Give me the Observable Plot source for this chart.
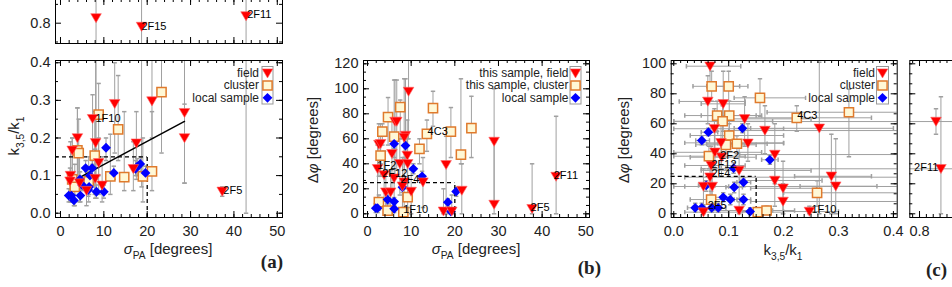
<!DOCTYPE html>
<html><head><meta charset="utf-8">
<script src="https://cdn.jsdelivr.net/npm/d3@7"></script>
<script src="https://cdn.jsdelivr.net/npm/@observablehq/plot@0.6"></script>
<style>
html,body{margin:0;padding:0;background:#fff;overflow:hidden}
#fig{position:relative;width:952px;height:287px;overflow:hidden;background:#fff}
#fig svg{position:absolute;left:0;top:-10px;max-width:none !important}
</style></head><body><div id="fig"></div>
<script>
// ---------------- DATA ----------------
// Panel (a): sigma_PA [deg] vs k35/k1 ; rows [x, y, yLow, yHigh]
const aField = [
 [12.5,0.291,0.16,0.40],[21.1,0.298,0.20,0.42],[28.6,0.267,0.08,0.42],[28.6,0.200,0.08,0.29],
 [7.4,0.251,0.13,0.315],[3.9,0.200,0.10,0.28],[8.1,0.187,0.09,0.42],[17.5,0.186,0.09,0.27],
 [2.7,0.167,0.06,0.20],[8.8,0.134,0.05,0.20],[2.3,0.100,0.05,0.19],[16.8,0.118,0.06,0.19],
 [2.2,0.085,0.03,0.12],[4.4,0.080,0.03,0.15],[9.6,0.074,0.03,0.15],[8.0,0.092,0.04,0.17],
 [6.0,0.060,0.02,0.11],[37.3,0.058,0.045,0.07],
 [8.2,0.814,0.05,0.9],[18.7,0.791,0.07,0.9],[42.8,0.819,0.0,0.9]
];
const aCluster = [
 [23.3,0.322,0.16,0.41],[8.8,0.262,0.10,0.345],[13.3,0.223,0.14,0.366],[3.9,0.167,0.10,0.28],
 [4.2,0.160,0.09,0.25],[7.9,0.153,0.05,0.27],[11.5,0.098,0.05,0.21],[14.7,0.096,0.06,0.27],
 [19.0,0.098,0.03,0.20],[21.1,0.111,0.06,0.27],[2.7,0.090,0.03,0.20],[3.3,0.070,0.02,0.13],
 [6.5,0.085,0.03,0.15]
];
const aLocal = [
 [10.5,0.174,0.14,0.20],[18.4,0.131,0.11,0.15],[17.7,0.124,0.10,0.145],[17.3,0.118,0.10,0.14],
 [19.6,0.107,0.09,0.125],[12.3,0.107,0.09,0.125],[5.8,0.120,0.10,0.14],[7.3,0.120,0.10,0.14],
 [4.5,0.090,0.07,0.11],[5.0,0.075,0.06,0.09],[2.5,0.047,0.03,0.065],[1.9,0.047,0.03,0.065],
 [3.1,0.034,0.02,0.05],[4.6,0.047,0.03,0.065],[6.6,0.070,0.05,0.09],[6.4,0.062,0.045,0.08],
 [8.3,0.057,0.04,0.075],[10.0,0.057,0.04,0.075],[6.8,0.100,0.08,0.12]
];
const aFitX = [2.3, 28.6], aFitY = [0.082, 0.244];
const aCut = {x: 20, y: 0.15};
const aNames = [[7.6,0.252,"1F10"],[37.1,0.060,"2F5"]];
const aTopNames = [[18.2,0.791,"2F15"],[42.6,0.823,"2F11"]];
const aXTicks = [0,10,20,30,40,50], aYTicks = [0,0.1,0.2,0.3,0.4], aTopYTicks = [0.8];

// Panel (b): sigma_PA [deg] vs delta phi [deg] ; rows [x, y, yLow, yHigh]
const bField = [
 [9.4,97.8,60,125],[6.3,73.8,30,107],[6.7,73.8,35,107],[8.7,62.6,40,108],[8.4,61,35,108],
 [2.6,55.4,30,72],[3.0,56,30,72],[5.6,48,20,75],[9.1,46.6,20,75],[7.4,40,15,60],[9.2,40,15,60],
 [2.3,36,10,55],[3.8,31,10,50],[6.1,28.5,5,50],[8.4,25.3,5,45],[8.0,22,5,45],[12.7,25.3,5,45],
 [4.2,17.3,0,35],[5.3,17.3,0,35],[10.0,17.8,0,35],[18.0,39.2,0,62],[21.6,18.6,0,40],
 [17.4,2,0,20],[19.3,2,0,15],[29.0,57.8,8,100],[29.0,7.4,0,57],[37.7,4,0,40],[43.2,29.8,0,78]
];
const bCluster = [
 [15.0,84.5,70,98],[7.5,85.3,60,91],[4.7,77.3,55,93],[19.1,65.8,45,85],[23.8,68.5,45,94],
 [13.6,64,50,75],[3.4,65.8,55,72],[6.1,61.8,45,107],[11.9,52,40,60],[3.0,46.6,40,55],
 [21.4,47.4,40,108],[9.2,13.3,5,25],[2.6,9.3,3,15],[4.6,2.6,0,8],[8.2,1.3,0,5]
];
const bLocal = [
 [6.1,56,52,60],[8.7,54.6,50,58],[10.5,36,32,40],[12.5,30,26,34],[8.0,21.3,17,25],
 [4.6,11.4,8,15],[6.1,9.8,6,13],[1.9,4.5,1,8],[2.3,4.5,1,8],[6.1,4,1,7],
 [20.3,17.8,14,21],[18.4,9.3,6,12],[19.1,1.8,0,4]
];
const bCut = {x: 20, y: 25};
const bNames = [[1.8,38.6,"1F2"],[2.9,32.5,"2F12"],[7.1,27.2,"2F4"],[13.3,65.8,"4C3"],
 [7.7,3.4,"1F10"],[36.9,5.3,"2F5"],[42.2,30.6,"2F11"]];
const bXTicks = [0,10,20,30,40,50], bYTicks = [0,20,40,60,80,100,120];

// Panel (c): k35/k1 vs delta phi ; rows [x, y, xLow, xHigh, yLow, yHigh]
const cField = [
 [0.066,98.4,0.023,0.122,85,100],[0.062,74.9,0.01,0.13,60,92],[0.090,73.3,0.05,0.13,55,95],
 [0.129,63.3,0.08,0.25,45,78],[0.074,56.7,0.0,0.20,40,70],[0.166,55.5,0.10,0.45,40,72],
 [0.086,47.3,0.02,0.20,30,65],[0.135,47,0.08,0.20,35,60],[0.075,41,0.0,0.16,30,55],
 [0.087,37.7,0.03,0.15,25,50],[0.184,39.5,0.12,0.45,20,60],[0.068,32.2,0.02,0.13,20,45],
 [0.119,28.9,0.05,0.25,10,45],[0.066,24.4,0.02,0.45,10,40],[0.184,22.2,0.12,0.27,5,40],
 [0.054,18.2,0.0,0.10,5,30],[0.070,18.2,0.02,0.45,5,30],[0.199,17,0.14,0.26,0,35],
 [0.199,8.2,0.14,0.45,0,20],[0.119,2.2,0.07,0.18,0,8],[0.054,1.1,0.02,0.10,0,6],
 [0.265,57,0.17,0.40,0,101],[0.287,25,0.22,0.36,0,53],[0.295,18.4,0.23,0.37,0,50],
 [0.247,1.5,0.20,0.30,0,5],
 [0.830,61.5,0.0,0.95,53,70],[0.839,30,0.05,0.95,0,78]
];
const cCluster = [
 [0.069,85,0.035,0.12,75,95],[0.100,85,0.06,0.135,75,95],[0.157,77.3,0.11,0.24,65,90],
 [0.079,65.5,0.02,0.15,55,75],[0.101,65.5,0.05,0.16,55,75],[0.089,61.7,0.0,0.18,50,72],
 [0.224,64,0.13,0.36,55,72],[0.319,67.7,0.17,0.41,38,83],[0.101,52.2,0.03,0.20,45,60],
 [0.095,46,0.04,0.15,40,52],[0.115,46.7,0.06,0.17,40,52],[0.064,38.4,0.0,0.13,30,45],
 [0.068,9.5,0.03,0.11,3,15],[0.153,1.1,0.10,0.20,0,4],[0.169,2.2,0.12,0.22,0,5],
 [0.261,14,0.20,0.45,5,22]
];
const cLocal = [
 [0.063,54.4,0.05,0.08,52,57],[0.125,57,0.11,0.14,54,60],[0.051,48.9,0.04,0.065,46,52],
 [0.175,36,0.16,0.19,33,39],[0.109,30.4,0.095,0.125,27,34],[0.127,21,0.115,0.14,18,24],
 [0.110,17.7,0.095,0.125,14,21],[0.059,18.9,0.045,0.075,15,22],[0.090,11,0.075,0.105,8,14],
 [0.103,9.5,0.09,0.12,6,13],[0.127,9.5,0.115,0.14,6,13],[0.039,4,0.025,0.055,1,7],
 [0.051,4,0.04,0.065,1,7],[0.069,4,0.055,0.085,1,7],[0.081,4,0.07,0.095,1,7],
 [0.139,1.5,0.125,0.155,0,4]
];
const cCut = {x: 0.15, y: 25};
const cNames = [[0.081,38.9,"2F2"],[0.065,32.9,"2F12"],[0.065,26.9,"2F4"],[0.058,5.5,"2F5"],
 [0.221,65.5,"4C3"],[0.247,2.9,"1F10"]];
const cBreakNames = [[0.838,30.9,"2F11"]];
const cXTicks = [0,0.1,0.2,0.3,0.4], cYTicks = [0,20,40,60,80,100], cBreakXTicks = [0.8];

const legendA = ["field", "cluster", "local sample"];
const legendB = ["this sample, field", "this sample, cluster", "local sample"];

// ---------------- STYLE / HELPERS ----------------
const W = 1010, H = 310, OY = 10;
const FONT = "'Liberation Sans', Arial, Helvetica, sans-serif";
const GRAY = "#a0a0a0", RED = "#ff0000", ORANGE = "#e07a2c", CREAM = "#fff8d6", BLUE = "#0000ff";
const triDown = {draw(c){ c.moveTo(-5.3,-4.3); c.lineTo(5.3,-4.3); c.lineTo(0,4.8); c.closePath(); }};
const square = {draw(c){ c.moveTo(-4.6,-4.6); c.lineTo(4.6,-4.6); c.lineTo(4.6,4.6); c.lineTo(-4.6,4.6); c.closePath(); }};
const diamond = {draw(c){ c.moveTo(0,-4.9); c.lineTo(4.9,0); c.lineTo(0,4.9); c.lineTo(-4.9,0); c.closePath(); }};
const hcap = {draw(c){ c.moveTo(-2.2,0); c.lineTo(2.2,0); }};
const vcap = {draw(c){ c.moveTo(0,-2.2); c.lineTo(0,2.2); }};

const fmt1 = d3.format(".1f");
const range = (a, b, s) => d3.range(Math.round((b - a) / s) + 1).map(i => +(a + i * s).toFixed(6));

function makePanel(f, xd, yd, marks) {
  return Plot.plot({
    width: W, height: H,
    marginLeft: f.l, marginRight: W - f.r, marginTop: f.t + OY, marginBottom: H - f.b - OY,
    x: {domain: xd, axis: null}, y: {domain: yd, axis: null},
    style: {background: "transparent", overflow: "visible", fontFamily: FONT, maxWidth: "none"},
    marks
  });
}

function frameMarks(f, xd, yd, o) {
  const fh = f.b - f.t, fw = f.r - f.l;
  const inX = v => v >= xd[0] && v <= xd[1], inY = v => v >= yd[0] && v <= yd[1];
  const m = [];
  for (const [vals, L] of [[o.xMaj.filter(inX), 6], [o.xMin.filter(inX), 3]]) {
    m.push(Plot.tickX(vals, {x: d => d, insetTop: fh - L, stroke: "#000"}));
    m.push(Plot.tickX(vals, {x: d => d, insetBottom: fh - L, stroke: "#000"}));
  }
  for (const [vals, L] of [[o.yMaj.filter(inY), 6], [o.yMin.filter(inY), 3]]) {
    m.push(Plot.tickY(vals, {y: d => d, insetRight: fw - L, stroke: "#000"}));
    m.push(Plot.tickY(vals, {y: d => d, insetLeft: fw - L, stroke: "#000"}));
  }
  if (o.xLab) m.push(Plot.text(o.xLab, {x: d => d, text: o.xFmt, frameAnchor: "bottom", lineAnchor: "top", dy: 8, fontSize: 14.5, fill: "#222"}));
  if (o.yLab) m.push(Plot.text(o.yLab, {y: d => d, text: o.yFmt, frameAnchor: "left", textAnchor: "end", dx: -5, fontSize: 14.5, fill: "#222"}));
  m.push(Plot.frame({stroke: "#000", strokeWidth: 1}));
  return m;
}

function yErr(data, xi, loi, hii) {
  return [
    Plot.ruleX(data, {x: d => d[xi], y1: d => d[loi], y2: d => d[hii], stroke: GRAY, strokeWidth: 1, clip: true}),
    Plot.dot(data, {x: d => d[xi], y: d => d[loi], symbol: hcap, stroke: GRAY, fill: "none", clip: true}),
    Plot.dot(data, {x: d => d[xi], y: d => d[hii], symbol: hcap, stroke: GRAY, fill: "none", clip: true})
  ];
}
function xErr(data) {
  return [
    Plot.ruleY(data, {y: d => d[1], x1: d => d[2], x2: d => d[3], stroke: GRAY, strokeWidth: 1, clip: true}),
    Plot.dot(data, {x: d => d[2], y: d => d[1], symbol: vcap, stroke: GRAY, fill: "none", clip: true}),
    Plot.dot(data, {x: d => d[3], y: d => d[1], symbol: vcap, stroke: GRAY, fill: "none", clip: true})
  ];
}
function points(field, cluster, local) {
  return [
    Plot.dot(cluster, {x: d => d[0], y: d => d[1], symbol: square, fill: CREAM, stroke: ORANGE, strokeWidth: 1.5, clip: true}),
    Plot.dot(local, {x: d => d[0], y: d => d[1], symbol: diamond, fill: BLUE, stroke: "none", clip: true}),
    Plot.dot(field, {x: d => d[0], y: d => d[1], symbol: triDown, fill: RED, stroke: "#ff6666", strokeWidth: 0.6, clip: true})
  ];
}
function names(data, anchor = "start") {
  return Plot.text(data, {x: d => d[0], y: d => d[1], text: d => d[2], textAnchor: anchor,
    dx: anchor === "start" ? 2 : -2, fontSize: 11, fill: "#000"});
}
function cutLines(xd, yd, cut) {
  return [
    Plot.ruleY([cut.y], {x1: xd[0], x2: cut.x, stroke: "#000", strokeWidth: 1.3, strokeDasharray: "4,3"}),
    Plot.ruleX([cut.x], {y1: yd[0], y2: cut.y, stroke: "#000", strokeWidth: 1.3, strokeDasharray: "4,3"})
  ];
}
function legend(f, labels, symX, textX, boxL, boxR) {
  const rows = [12.7, 25, 37.3];
  const syms = [[triDown, RED, "#ff6666"], [square, CREAM, ORANGE], [diamond, BLUE, "none"]];
  const m = [Plot.frame({insetLeft: boxL - f.l, insetRight: f.r - boxR, insetTop: 6, insetBottom: (f.b - f.t) - 43.5, stroke: "#999", strokeWidth: 1})];
  labels.forEach((lab, i) => {
    m.push(Plot.text([lab], {text: d => d, frameAnchor: "top-right", dx: textX - f.r, dy: rows[i], textAnchor: "end", lineAnchor: "middle", fontSize: 12, fill: "#222"}));
    m.push(Plot.dot([lab], {frameAnchor: "top-right", dx: symX - f.r, dy: rows[i], symbol: syms[i][0], fill: syms[i][1], stroke: syms[i][2], strokeWidth: i === 1 ? 1.5 : 0.6}));
  });
  return m;
}

// ---------------- PANELS ----------------
const fig = d3.select("#fig");
const A = {l: 55, r: 282, t: 60, b: 217}, AT = {l: 55, r: 282, t: -1, b: 43};
const aX = [-1.15, 51.2], aY = [-0.0114, 0.406], aYT = [0.746, 0.863];
const aAll = [...aField, ...aCluster, ...aLocal];

fig.node().appendChild(makePanel(A, aX, aY, [
  ...yErr(aAll, 0, 2, 3),
  ...cutLines(aX, aY, aCut),
  Plot.line(aFitX.map((x, i) => [x, aFitY[i]]), {x: d => d[0], y: d => d[1], stroke: "#000", strokeWidth: 1.5}),
  ...points(aField, aCluster, aLocal),
  names(aNames),
  ...legend(A, legendA, 267, 258.5, 261.5, 272.5),
  ...frameMarks(A, aX, aY, {xMaj: aXTicks, xMin: range(0, 50, 2), yMaj: aYTicks, yMin: range(0, 0.4, 0.05),
    xLab: aXTicks, xFmt: d => String(d), yLab: aYTicks, yFmt: fmt1})
]));
fig.node().appendChild(makePanel(AT, aX, aYT, [
  ...yErr(aAll, 0, 2, 3),
  ...points(aField, aCluster, aLocal),
  names(aTopNames),
  ...frameMarks(AT, aX, aYT, {xMaj: aXTicks, xMin: range(0, 50, 2), yMaj: aTopYTicks, yMin: [0.75, 0.85],
    yLab: aTopYTicks, yFmt: fmt1})
]));

const B = {l: 363, r: 589, t: 60, b: 217};
const bX = [-0.92, 50.85], bY = [-2.96, 122.64];
fig.node().appendChild(makePanel(B, bX, bY, [
  ...yErr([...bField, ...bCluster, ...bLocal], 0, 2, 3),
  ...cutLines(bX, bY, bCut),
  ...points(bField, bCluster, bLocal),
  names(bNames),
  ...legend(B, legendB, 575, 568, 569.5, 580.5),
  ...frameMarks(B, bX, bY, {xMaj: bXTicks, xMin: range(0, 50, 2), yMaj: bYTicks, yMin: range(0, 120, 20 / 3),
    xLab: bXTicks, xFmt: d => String(d), yLab: bYTicks, yFmt: d => String(d)})
]));

const C = {l: 670.7, r: 896.7, t: 60, b: 217}, C2 = {l: 909.3, r: 1000, t: 60, b: 217};
const cX = [-0.0047, 0.4069], cY = [-2.47, 102.2], c2X = [0.7823, 0.9475];
const cAll = [...cField, ...cCluster, ...cLocal];
fig.node().appendChild(makePanel(C, cX, cY, [
  ...xErr(cAll), ...yErr(cAll, 0, 4, 5),
  ...cutLines(cX, cY, cCut),
  ...points(cField, cCluster, cLocal),
  names(cNames),
  ...legend(C, legendA, 882, 874.5, 876, 888),
  ...frameMarks(C, cX, cY, {xMaj: cXTicks, xMin: range(0, 0.4, 0.0125), yMaj: cYTicks, yMin: range(0, 100, 20 / 3),
    xLab: cXTicks, xFmt: fmt1, yLab: cYTicks, yFmt: d => String(d)})
]));
fig.node().appendChild(makePanel(C2, c2X, cY, [
  ...xErr(cAll), ...yErr(cAll, 0, 4, 5),
  ...points(cField, cCluster, cLocal),
  names(cBreakNames, "end"),
  ...frameMarks(C2, c2X, cY, {xMaj: [0.8, 0.9], xMin: range(0.7875, 0.95, 0.0125), yMaj: cYTicks, yMin: range(0, 100, 20 / 3),
    xLab: cBreakXTicks, xFmt: fmt1})
]));

// ---------------- TITLES ----------------
const ov = fig.append("svg").attr("width", 952).attr("height", 287).style("top", "0px")
  .attr("font-family", FONT);
function rich(x, y, parts, {size = 15, rotate = 0, anchor = "middle", family = FONT, weight = "normal"} = {}) {
  const t = ov.append("text").attr("transform", `translate(${x},${y}) rotate(${rotate})`)
    .attr("text-anchor", anchor).attr("font-size", size).attr("font-family", family)
    .attr("font-weight", weight).attr("fill", "#222");
  let shift = 0;
  for (const [s, kind] of parts) {
    const want = kind === "sub" ? size * 0.3 : 0;
    const sp = t.append("tspan").text(s).attr("dy", want - shift);
    shift = want;
    if (kind === "sub") sp.attr("font-size", size * 0.68);
    if (kind === "it") sp.attr("font-style", "italic");
  }
}
const kLabel = [["k"], ["3,5", "sub"], ["/k"], ["1", "sub"]];
const sLabel = [["σ", "it"], ["PA", "sub"], [" [degrees]"]];
const pLabel = [["Δ"], ["φ", "it"], [" [degrees]"]];
rich(168, 254, sLabel);
rich(476, 254, sLabel);
rich(783, 255, kLabel);
rich(19, 136, kLabel, {rotate: -90});
rich(318, 140, pLabel, {rotate: -90});
rich(629, 140, pLabel, {rotate: -90});
const SERIF = "'Liberation Serif', 'Times New Roman', serif";
rich(283, 268, [["(a)"]], {size: 19, anchor: "end", family: SERIF, weight: "bold"});
rich(601, 274, [["(b)"]], {size: 19, anchor: "end", family: SERIF, weight: "bold"});
rich(947, 276, [["(c)"]], {size: 19, anchor: "end", family: SERIF, weight: "bold"});
</script></body></html>
